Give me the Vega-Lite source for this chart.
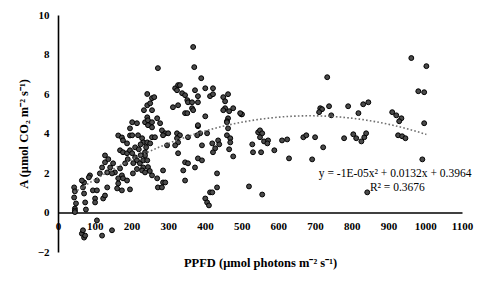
{
  "$schema": "https://vega.github.io/schema/vega-lite/v6.json",
  "width": 404,
  "height": 237,
  "autosize": "none",
  "padding": {"left": 58, "top": 15, "right": 27, "bottom": 34},
  "background": "white",
  "config": {
    "view": {"stroke": null},
    "axis": {
      "grid": false,
      "ticks": false,
      "labelOverlap": false,
      "labelFlush": false,
      "labelBound": false,
      "domainColor": "#000000",
      "domainWidth": 1.6,
      "labelFont": "Liberation Serif",
      "labelFontWeight": "bold",
      "labelFontSize": 11,
      "labelColor": "#000000",
      "titleFont": "Liberation Serif",
      "titleFontWeight": "bold",
      "titleFontSize": 12.5,
      "titleColor": "#000000"
    }
  },
  "data": {
    "values": [
      {"ppfd": 44, "a": 1.27}, {"ppfd": 46, "a": 1.07}, {"ppfd": 44, "a": 0.76}, {"ppfd": 49, "a": 0.46}, {"ppfd": 46, "a": 0.2}, {"ppfd": 46, "a": 0.1}, {"ppfd": 46, "a": 0.02},
      {"ppfd": 71, "a": 1.52}, {"ppfd": 68, "a": 1.27}, {"ppfd": 71, "a": 0.96}, {"ppfd": 74, "a": 0.51}, {"ppfd": 76, "a": 0.15}, {"ppfd": 65, "a": 1.62},
      {"ppfd": 87, "a": 1.88}, {"ppfd": 84, "a": 1.78}, {"ppfd": 95, "a": 1.12}, {"ppfd": 106, "a": 1.12}, {"ppfd": 101, "a": 0.71}, {"ppfd": 101, "a": 0.51},
      {"ppfd": 106, "a": 1.62}, {"ppfd": 114, "a": 1.98}, {"ppfd": 120, "a": 2.28}, {"ppfd": 128, "a": 2.89}, {"ppfd": 123, "a": 0.71}, {"ppfd": 128, "a": 0.86},
      {"ppfd": 134, "a": 1.27}, {"ppfd": 142, "a": 2.28}, {"ppfd": 134, "a": 2.03}, {"ppfd": 150, "a": 2.49}, {"ppfd": 155, "a": 2.03}, {"ppfd": 147, "a": 1.98},
      {"ppfd": 128, "a": 2.54}, {"ppfd": 137, "a": 2.7},
      {"ppfd": 106, "a": -0.4}, {"ppfd": 120, "a": -1.17}, {"ppfd": 147, "a": -0.9}, {"ppfd": 65, "a": -1.07}, {"ppfd": 71, "a": -1.27}, {"ppfd": 68, "a": -0.9}, {"ppfd": 74, "a": -1.17},
      {"ppfd": 164, "a": 3.9}, {"ppfd": 174, "a": 3.8}, {"ppfd": 177, "a": 3.65}, {"ppfd": 188, "a": 3.5}, {"ppfd": 169, "a": 3.15}, {"ppfd": 177, "a": 3.05},
      {"ppfd": 188, "a": 3.0}, {"ppfd": 196, "a": 4.26}, {"ppfd": 196, "a": 3.9}, {"ppfd": 183, "a": 2.49}, {"ppfd": 169, "a": 2.23}, {"ppfd": 174, "a": 1.88},
      {"ppfd": 164, "a": 1.73}, {"ppfd": 177, "a": 1.73}, {"ppfd": 188, "a": 1.62}, {"ppfd": 164, "a": 1.47}, {"ppfd": 161, "a": 1.22}, {"ppfd": 174, "a": 1.12},
      {"ppfd": 202, "a": 4.57}, {"ppfd": 215, "a": 4.52}, {"ppfd": 237, "a": 4.57}, {"ppfd": 245, "a": 4.42}, {"ppfd": 256, "a": 4.31}, {"ppfd": 278, "a": 4.52},
      {"ppfd": 283, "a": 4.16}, {"ppfd": 292, "a": 4.01}, {"ppfd": 300, "a": 4.01}, {"ppfd": 286, "a": 3.91}, {"ppfd": 324, "a": 4.01}, {"ppfd": 332, "a": 3.91},
      {"ppfd": 324, "a": 3.76}, {"ppfd": 327, "a": 3.55}, {"ppfd": 319, "a": 3.4}, {"ppfd": 354, "a": 3.81}, {"ppfd": 381, "a": 4.37}, {"ppfd": 387, "a": 4.01},
      {"ppfd": 379, "a": 3.91}, {"ppfd": 406, "a": 4.01}, {"ppfd": 392, "a": 3.4}, {"ppfd": 202, "a": 3.91}, {"ppfd": 218, "a": 3.91}, {"ppfd": 229, "a": 3.76},
      {"ppfd": 232, "a": 3.55}, {"ppfd": 243, "a": 3.55}, {"ppfd": 251, "a": 3.5}, {"ppfd": 256, "a": 3.81}, {"ppfd": 264, "a": 3.81}, {"ppfd": 297, "a": 3.4},
      {"ppfd": 196, "a": 3.15}, {"ppfd": 202, "a": 3.0}, {"ppfd": 210, "a": 2.79}, {"ppfd": 215, "a": 2.64}, {"ppfd": 223, "a": 2.49}, {"ppfd": 232, "a": 2.28},
      {"ppfd": 237, "a": 3.05}, {"ppfd": 237, "a": 2.89}, {"ppfd": 232, "a": 2.64}, {"ppfd": 243, "a": 2.64}, {"ppfd": 229, "a": 2.13}, {"ppfd": 204, "a": 1.98},
      {"ppfd": 237, "a": 2.03}, {"ppfd": 256, "a": 1.88}, {"ppfd": 270, "a": 1.73}, {"ppfd": 286, "a": 2.13}, {"ppfd": 327, "a": 3.0}, {"ppfd": 346, "a": 2.54},
      {"ppfd": 354, "a": 2.49}, {"ppfd": 341, "a": 2.13}, {"ppfd": 373, "a": 2.28}, {"ppfd": 381, "a": 2.74}, {"ppfd": 392, "a": 2.64}, {"ppfd": 346, "a": 1.62},
      {"ppfd": 286, "a": 1.52}, {"ppfd": 272, "a": 1.27}, {"ppfd": 283, "a": 1.27}, {"ppfd": 292, "a": 1.52}, {"ppfd": 196, "a": 1.17}, {"ppfd": 414, "a": 1.02},
      {"ppfd": 401, "a": 0.71}, {"ppfd": 406, "a": 0.51},
      {"ppfd": 210, "a": 3.3}, {"ppfd": 220, "a": 3.2}, {"ppfd": 225, "a": 2.9}, {"ppfd": 245, "a": 2.3}, {"ppfd": 250, "a": 2.1}, {"ppfd": 215, "a": 2.2},
      {"ppfd": 190, "a": 2.7}, {"ppfd": 205, "a": 2.5}, {"ppfd": 225, "a": 3.45}, {"ppfd": 240, "a": 3.3},
      {"ppfd": 272, "a": 7.31}, {"ppfd": 243, "a": 6.0}, {"ppfd": 256, "a": 5.79}, {"ppfd": 262, "a": 5.84}, {"ppfd": 243, "a": 5.43}, {"ppfd": 251, "a": 5.53},
      {"ppfd": 256, "a": 5.18}, {"ppfd": 234, "a": 5.18}, {"ppfd": 243, "a": 4.82}, {"ppfd": 245, "a": 4.67}, {"ppfd": 256, "a": 4.57}, {"ppfd": 270, "a": 4.77},
      {"ppfd": 319, "a": 6.29}, {"ppfd": 327, "a": 6.45}, {"ppfd": 324, "a": 6.19}, {"ppfd": 338, "a": 6.04}, {"ppfd": 313, "a": 5.33}, {"ppfd": 327, "a": 5.43},
      {"ppfd": 368, "a": 8.38}, {"ppfd": 371, "a": 7.36}, {"ppfd": 390, "a": 6.8}, {"ppfd": 332, "a": 6.45}, {"ppfd": 346, "a": 5.94}, {"ppfd": 352, "a": 5.69},
      {"ppfd": 354, "a": 5.58}, {"ppfd": 373, "a": 6.19}, {"ppfd": 381, "a": 5.89}, {"ppfd": 401, "a": 6.29}, {"ppfd": 422, "a": 6.29}, {"ppfd": 414, "a": 5.89},
      {"ppfd": 422, "a": 5.99}, {"ppfd": 365, "a": 5.58}, {"ppfd": 381, "a": 5.58}, {"ppfd": 365, "a": 5.28}, {"ppfd": 368, "a": 5.18}, {"ppfd": 346, "a": 5.03},
      {"ppfd": 352, "a": 5.03}, {"ppfd": 401, "a": 4.87}, {"ppfd": 450, "a": 5.84}, {"ppfd": 463, "a": 5.99}, {"ppfd": 455, "a": 5.63}, {"ppfd": 455, "a": 5.28},
      {"ppfd": 466, "a": 5.13}, {"ppfd": 477, "a": 5.28}, {"ppfd": 450, "a": 5.18}, {"ppfd": 499, "a": 4.97}, {"ppfd": 463, "a": 4.77}, {"ppfd": 460, "a": 4.62},
      {"ppfd": 381, "a": 4.42},
      {"ppfd": 460, "a": 4.57}, {"ppfd": 420, "a": 3.5}, {"ppfd": 436, "a": 3.65}, {"ppfd": 439, "a": 3.45}, {"ppfd": 428, "a": 3.25}, {"ppfd": 422, "a": 3.05},
      {"ppfd": 463, "a": 4.26}, {"ppfd": 460, "a": 3.91}, {"ppfd": 469, "a": 3.76}, {"ppfd": 469, "a": 3.55}, {"ppfd": 466, "a": 3.2}, {"ppfd": 477, "a": 2.84},
      {"ppfd": 545, "a": 4.06}, {"ppfd": 550, "a": 4.16}, {"ppfd": 556, "a": 4.01}, {"ppfd": 550, "a": 3.81}, {"ppfd": 561, "a": 3.6}, {"ppfd": 572, "a": 3.65},
      {"ppfd": 570, "a": 3.5}, {"ppfd": 529, "a": 3.45}, {"ppfd": 531, "a": 3.05}, {"ppfd": 553, "a": 3.05}, {"ppfd": 589, "a": 3.15}, {"ppfd": 610, "a": 3.65},
      {"ppfd": 433, "a": 1.98}, {"ppfd": 433, "a": 1.27}, {"ppfd": 420, "a": 1.02}, {"ppfd": 411, "a": 0.36}, {"ppfd": 520, "a": 1.32}, {"ppfd": 556, "a": 0.91},
      {"ppfd": 733, "a": 6.85}, {"ppfd": 714, "a": 5.28}, {"ppfd": 719, "a": 5.23}, {"ppfd": 738, "a": 5.38}, {"ppfd": 711, "a": 5.08}, {"ppfd": 744, "a": 4.92},
      {"ppfd": 624, "a": 3.7}, {"ppfd": 668, "a": 3.81}, {"ppfd": 676, "a": 3.91}, {"ppfd": 700, "a": 3.81}, {"ppfd": 722, "a": 3.3}, {"ppfd": 629, "a": 2.74},
      {"ppfd": 692, "a": 2.69}, {"ppfd": 779, "a": 3.76},
      {"ppfd": 962, "a": 7.82}, {"ppfd": 1003, "a": 7.41}, {"ppfd": 981, "a": 6.14}, {"ppfd": 997, "a": 6.09}, {"ppfd": 997, "a": 4.52}, {"ppfd": 992, "a": 2.69},
      {"ppfd": 910, "a": 5.08}, {"ppfd": 921, "a": 4.92}, {"ppfd": 935, "a": 4.77}, {"ppfd": 929, "a": 4.62}, {"ppfd": 926, "a": 3.91}, {"ppfd": 937, "a": 3.86},
      {"ppfd": 946, "a": 3.76}, {"ppfd": 790, "a": 5.38}, {"ppfd": 831, "a": 5.48}, {"ppfd": 845, "a": 5.58}, {"ppfd": 818, "a": 5.03}, {"ppfd": 804, "a": 3.96},
      {"ppfd": 812, "a": 3.76}, {"ppfd": 826, "a": 3.6}, {"ppfd": 834, "a": 3.81}, {"ppfd": 839, "a": 4.01}, {"ppfd": 842, "a": 1.02},
      {"ppfd": 501, "a": 4.97}, {"ppfd": 496, "a": 5.03}
    ]
  },
  "layer": [
    {
      "mark": {"type": "point", "shape": "circle", "filled": true, "size": 24, "fill": "#4a4a4a", "stroke": "#000000", "strokeWidth": 1, "opacity": 1},
      "encoding": {
        "x": {
          "field": "ppfd", "type": "quantitative",
          "scale": {"domain": [0, 1100], "nice": false, "zero": false},
          "axis": {
            "title": "PPFD (μmol photons m⁻² s⁻¹)",
            "values": [0, 100, 200, 300, 400, 500, 600, 700, 800, 900, 1000, 1100],
            "tickCount": 30,
            "format": "d",
            "offset": -39.5,
            "labelPadding": 8,
            "labelOverlap": false,
            "titleY": 50,
            "titleBaseline": "middle"
          }
        },
        "y": {
          "field": "a", "type": "quantitative",
          "scale": {"domain": [-2, 10], "nice": false, "zero": false},
          "axis": {
            "title": "A (μmol CO₂ m⁻² s⁻¹)",
            "values": [-2, 0, 2, 4, 6, 8, 10],
            "tickCount": 30,
            "format": "d",
            "labelOverlap": false,
            "labelPadding": 9,
            "titlePadding": 7
          }
        }
      }
    },
    {
      "transform": [{"regression": "a", "on": "ppfd", "method": "poly", "order": 2}],
      "mark": {"type": "line", "color": "#707070", "strokeWidth": 1.6, "strokeDash": [1.6, 2.2]},
      "encoding": {
        "x": {"field": "ppfd", "type": "quantitative"},
        "y": {"field": "a", "type": "quantitative"}
      }
    },
    {
      "data": {"values": [{"label": "y = -1E-05x² + 0.0132x + 0.3964"}]},
      "mark": {"type": "text", "font": "Liberation Serif", "fontSize": 11.5, "color": "#000000", "align": "center", "baseline": "middle"},
      "encoding": {
        "x": {"datum": 918, "type": "quantitative"},
        "y": {"datum": 1.93, "type": "quantitative"},
        "text": {"field": "label"}
      }
    },
    {
      "data": {"values": [{"label": "R² = 0.3676"}]},
      "mark": {"type": "text", "font": "Liberation Serif", "fontSize": 11.5, "color": "#000000", "align": "center", "baseline": "middle"},
      "encoding": {
        "x": {"datum": 924, "type": "quantitative"},
        "y": {"datum": 1.22, "type": "quantitative"},
        "text": {"field": "label"}
      }
    }
  ]
}
